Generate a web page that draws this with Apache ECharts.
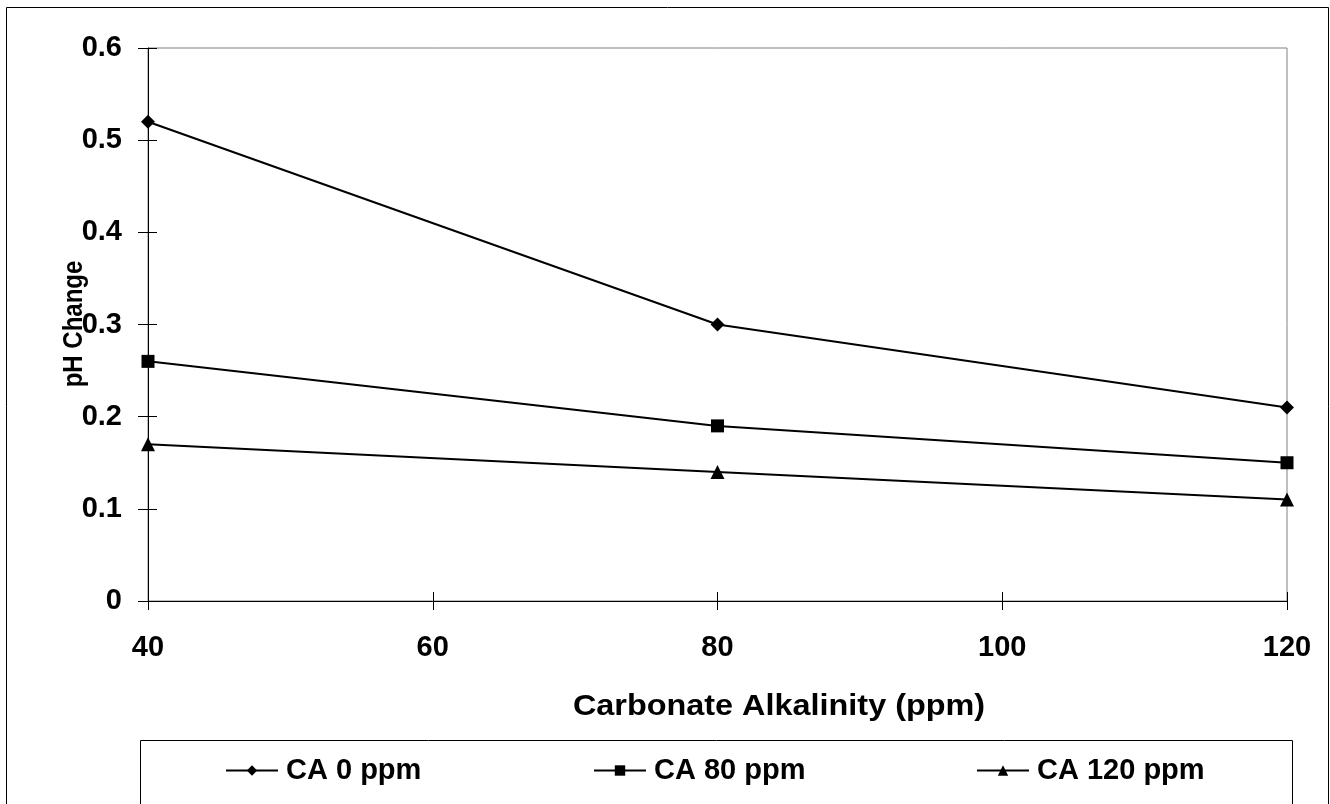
<!DOCTYPE html>
<html>
<head>
<meta charset="utf-8">
<script src="https://cdn.jsdelivr.net/npm/echarts@6/dist/echarts.min.js"></script>
<style>
html,body{margin:0;padding:0;background:#fff;}
#chart{width:1330px;height:804px;}
</style>
</head>
<body>
<div id="chart"></div>
<script>
const xValues = [40, 80, 120];
const seriesNames = ['CA 0 ppm', 'CA 80 ppm', 'CA 120 ppm'];
const ca0 = [0.52, 0.30, 0.21];
const ca80 = [0.26, 0.19, 0.15];
const ca120 = [0.17, 0.14, 0.11];
const yTitle = 'pH Change';
const xTitle = 'Carbonate Alkalinity (ppm)';

const FONT = '"Liberation Sans", Arial, sans-serif';
const chart = echarts.init(document.getElementById('chart'));

function pairs(vals) { return xValues.map((x, i) => [x, vals[i]]); }

const symbols = ['diamond', 'rect', 'triangle'];
const symSizes = [14, 13, 14];
const allData = [ca0, ca80, ca120];

const series = seriesNames.map((n, i) => ({
  name: n,
  type: 'line',
  xAxisIndex: 0,
  yAxisIndex: 0,
  data: pairs(allData[i]),
  symbol: symbols[i],
  symbolSize: symSizes[i],
  showSymbol: true,
  lineStyle: { color: '#000', width: 2 },
  itemStyle: { color: '#000' },
  animation: false
}));

const legendLefts = [225, 593, 976];
const legends = seriesNames.map((n, i) => ({
  data: [n],
  left: legendLefts[i],
  top: 756,
  itemWidth: 52,
  itemHeight: 13,
  itemGap: 0,
  textStyle: { fontFamily: FONT, fontWeight: 'bold', fontSize: 29, color: '#000', padding: [0, 0, 0, 3] },
  padding: 0
}));

const axisLabelStyle = { fontFamily: FONT, fontWeight: 'bold', fontSize: 29, color: '#000' };

chart.setOption({
  backgroundColor: '#fff',
  animation: false,
  grid: { left: 148, right: 43, top: 48, bottom: 203, show: true, borderColor: '#808080', borderWidth: 1, backgroundColor: 'transparent' },
  legend: legends,
  xAxis: [
    {
      type: 'value', min: 40, max: 120, interval: 20, position: 'bottom',
      axisLine: { show: true, onZero: false, lineStyle: { color: '#000', width: 1 } },
      axisTick: { show: true, length: 9, lineStyle: { color: '#000' } },
      axisLabel: Object.assign({ margin: 32 }, axisLabelStyle),
      splitLine: { show: false }
    },
    {
      type: 'value', min: 40, max: 120, interval: 20, position: 'bottom',
      axisLine: { show: false, onZero: false },
      axisTick: { show: true, inside: true, length: 9, lineStyle: { color: '#000' } },
      axisLabel: { show: false },
      splitLine: { show: false }
    }
  ],
  yAxis: [
    {
      type: 'value', min: 0, max: 0.6, interval: 0.1, position: 'left',
      axisLine: { show: true, onZero: false, lineStyle: { color: '#000', width: 1 } },
      axisTick: { show: true, length: 10, lineStyle: { color: '#000' } },
      axisLabel: Object.assign({ margin: 26, padding: [4, 0, 0, 0] }, axisLabelStyle),
      splitLine: { show: false }
    },
    {
      type: 'value', min: 0, max: 0.6, interval: 0.1, position: 'left',
      axisLine: { show: false, onZero: false },
      axisTick: { show: true, inside: true, length: 9, lineStyle: { color: '#000' } },
      axisLabel: { show: false },
      splitLine: { show: false }
    }
  ],
  series: series,
  graphic: [
    { type: 'rect', shape: { x: 6.5, y: 7.5, width: 1322, height: 820 }, style: { fill: 'none', stroke: '#000', lineWidth: 1 }, z: 100, silent: true },
    { type: 'rect', shape: { x: 140.5, y: 740.5, width: 1152, height: 100 }, style: { fill: 'none', stroke: '#000', lineWidth: 1 }, z: 100, silent: true },
    { type: 'text', x: 779, y: 707, scaleX: 1.08, style: { text: xTitle, fontFamily: FONT, fontWeight: 'bold', fontSize: 30, fill: '#000', textAlign: 'center', textVerticalAlign: 'middle' }, z: 100 },
    { type: 'text', x: 75, y: 324, rotation: Math.PI / 2, scaleY: 1.12, style: { text: yTitle, fontFamily: FONT, fontWeight: 'bold', fontSize: 24, fill: '#000', textAlign: 'center', textVerticalAlign: 'middle' }, z: 100 }
  ]
});
</script>
</body>
</html>
